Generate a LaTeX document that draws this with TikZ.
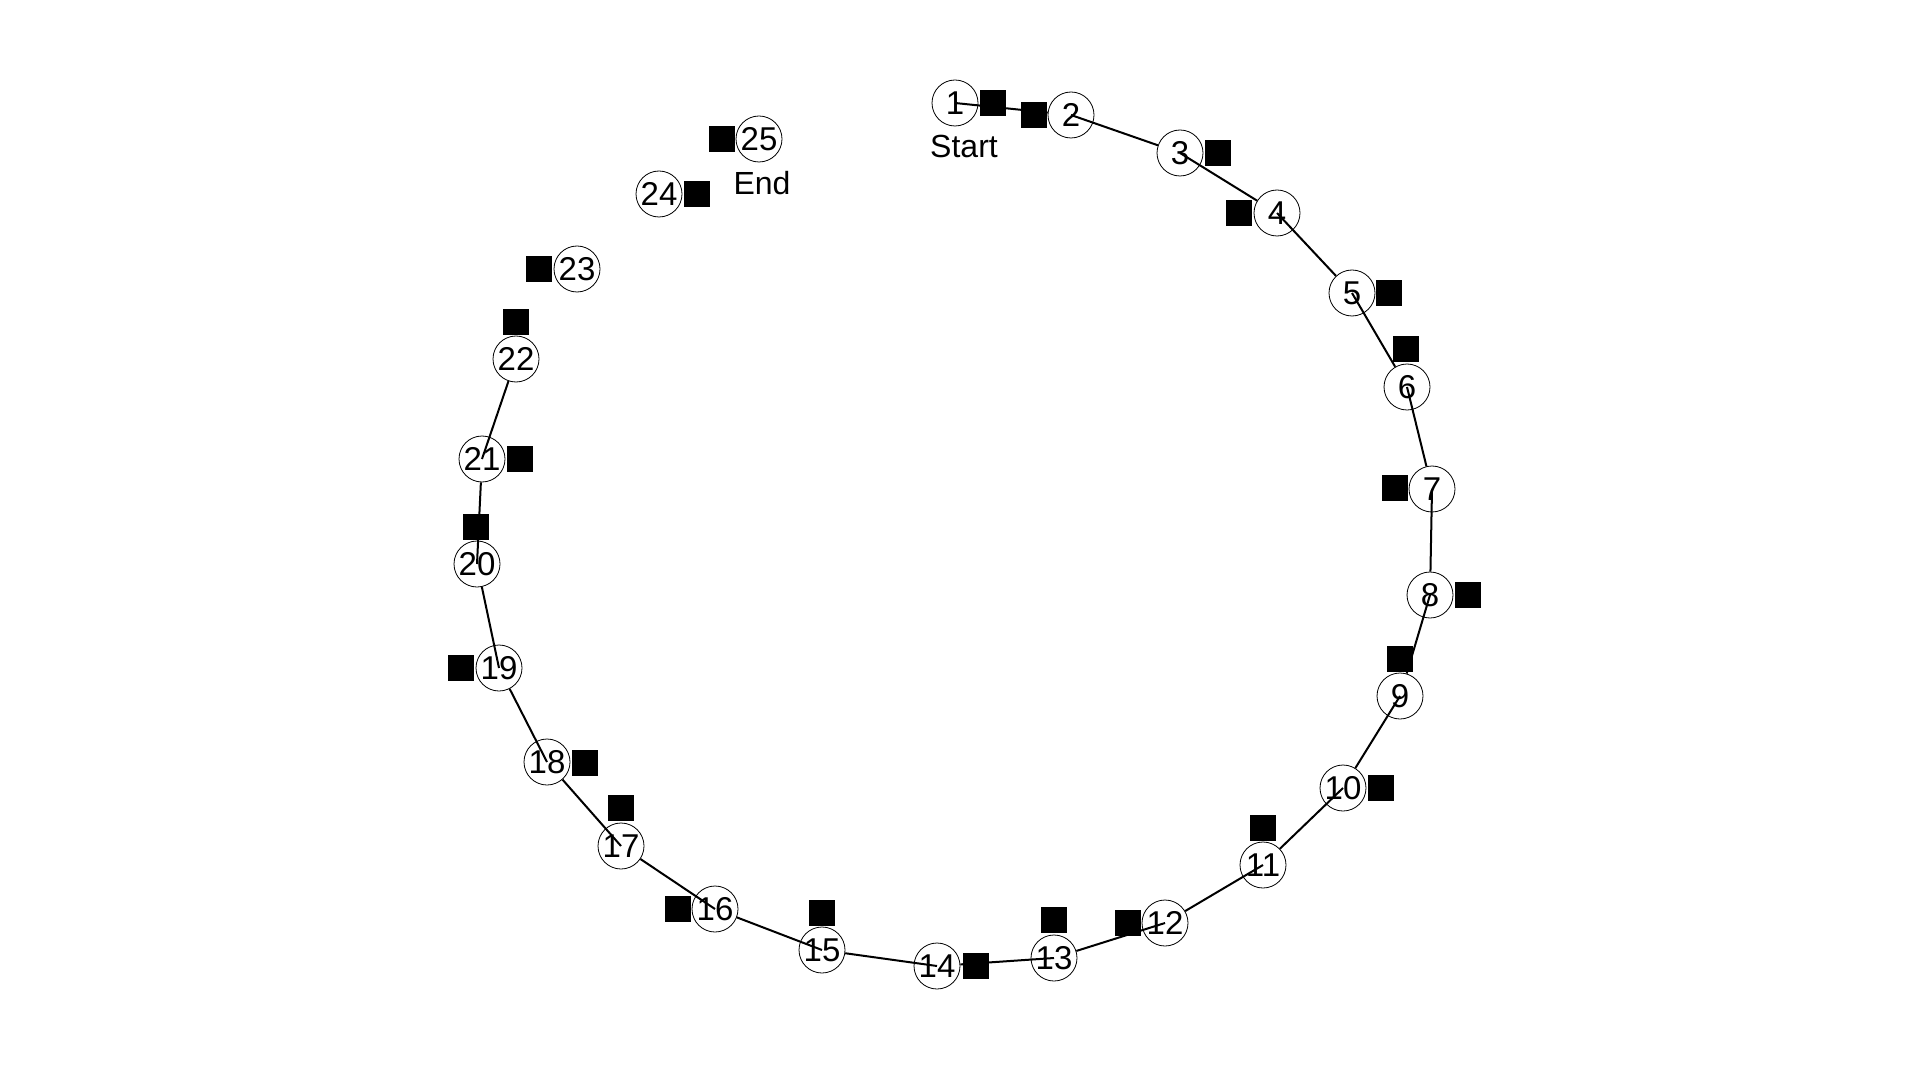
\documentclass[tikz,border=0pt]{standalone}
\usepackage{fontspec}
\setmainfont{Liberation Sans}
\usetikzlibrary{backgrounds}
\begin{document}
\begin{tikzpicture}[x=0.5pt,y=-0.5pt,
  stop/.style={circle,draw,line width=0.4pt,minimum size=23pt,inner sep=0pt,font=\fontsize{16.5}{16.5}\selectfont},
  blk/.style={rectangle,fill=black,minimum size=13pt,inner sep=0pt},
  lbl/.style={font=\fontsize{16}{16}\selectfont,inner sep=0pt},
  route/.style={line width=1pt,black}]
\useasboundingbox (0,0) rectangle (1920,1080);
% stops
\node[stop] (n1)  at (955,103) {1};
\node[stop] (n2)  at (1071,115) {2};
\node[stop] (n3)  at (1180,153) {3};
\node[stop] (n4)  at (1277,213) {4};
\node[stop] (n5)  at (1352,293) {5};
\node[stop] (n6)  at (1407,387) {6};
\node[stop] (n7)  at (1432,489) {7};
\node[stop] (n8)  at (1430,595) {8};
\node[stop] (n9)  at (1400,696) {9};
\node[stop] (n10) at (1343,788) {10};
\node[stop] (n11) at (1263,865) {11};
\node[stop] (n12) at (1165,923) {12};
\node[stop] (n13) at (1054,958) {13};
\node[stop] (n14) at (937,966) {14};
\node[stop] (n15) at (822,950) {15};
\node[stop] (n16) at (715,909) {16};
\node[stop] (n17) at (621,846) {17};
\node[stop] (n18) at (547,762) {18};
\node[stop] (n19) at (499,668) {19};
\node[stop] (n20) at (477,564) {20};
\node[stop] (n21) at (482,459) {21};
\node[stop] (n22) at (516,359) {22};
\node[stop] (n23) at (577,269) {23};
\node[stop] (n24) at (659,194) {24};
\node[stop] (n25) at (759,139) {25};
\node[lbl] (start) at (964,146) {Start};
\node[lbl] (end) at (762,183) {End};
% route
\begin{pgfonlayer}{background}
\foreach \a/\b in {1/2,2/3,3/4,4/5,5/6,6/7,7/8,8/9,9/10,10/11,11/12,12/13,13/14,14/15,15/16,16/17,17/18,18/19,19/20,20/21,21/22}
  \draw[route] (n\a.center) -- (n\b);
\end{pgfonlayer}
% markers
\node[blk] (s1)  at (993,103) {};
\node[blk] (s2)  at (1034,115) {};
\node[blk] (s3)  at (1218,153) {};
\node[blk] (s4)  at (1239,213) {};
\node[blk] (s5)  at (1389,293) {};
\node[blk] (s6)  at (1406,349) {};
\node[blk] (s7)  at (1395,488) {};
\node[blk] (s8)  at (1468,595) {};
\node[blk] (s9)  at (1400,659) {};
\node[blk] (s10) at (1381,788) {};
\node[blk] (s11) at (1263,828) {};
\node[blk] (s12) at (1128,923) {};
\node[blk] (s13) at (1054,920) {};
\node[blk] (s14) at (976,966) {};
\node[blk] (s15) at (822,913) {};
\node[blk] (s16) at (678,909) {};
\node[blk] (s17) at (621,808) {};
\node[blk] (s18) at (585,763) {};
\node[blk] (s19) at (461,668) {};
\node[blk] (s20) at (476,527) {};
\node[blk] (s21) at (520,459) {};
\node[blk] (s22) at (516,322) {};
\node[blk] (s23) at (539,269) {};
\node[blk] (s24) at (697,194) {};
\node[blk] (s25) at (722,139) {};
\end{tikzpicture}
\end{document}
